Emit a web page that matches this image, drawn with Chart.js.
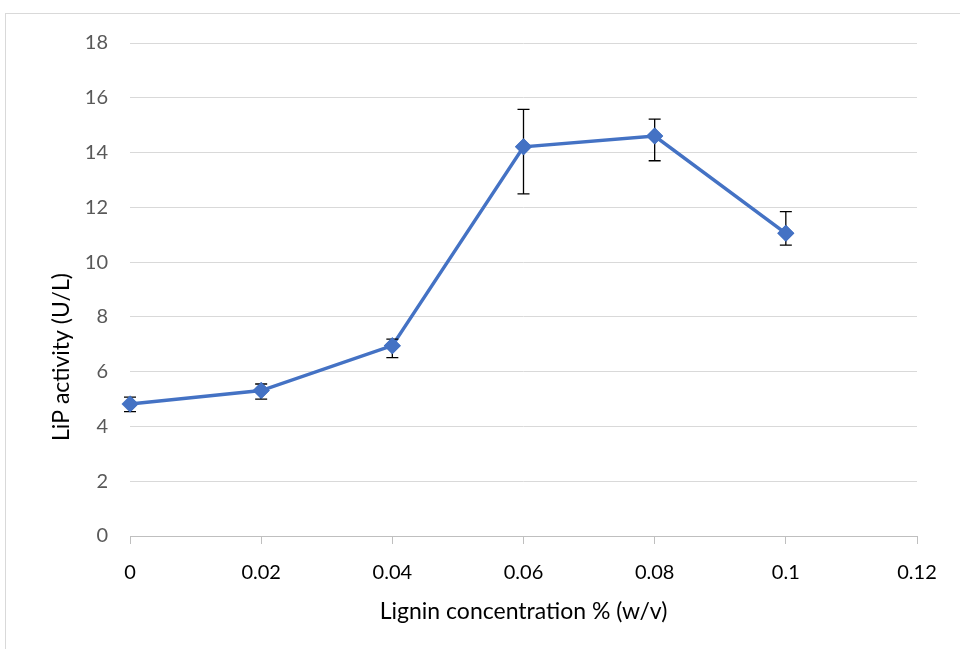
<!DOCTYPE html>
<html>
<head>
<meta charset="utf-8">
<script src="https://cdn.jsdelivr.net/npm/chart.js@4/dist/chart.umd.min.js"></script>
<style>
  html, body { margin: 0; padding: 0; background: #fff; overflow: hidden; }
  #frame { position: absolute; left: 5px; top: 13px; width: 1000px; height: 700px;
    border: 1px solid #d9d9d9; box-sizing: border-box; }
  #wrap { position: absolute; left: 0; top: 0; width: 960px; height: 649px; }
</style>
</head>
<body>
<div id="frame"></div>
<div id="wrap"><canvas id="chart"></canvas></div>
<script>
// LiP activity vs lignin concentration, with asymmetric error bars
const lignin = [0, 0.02, 0.04, 0.06, 0.08, 0.1];
const activity = [4.82, 5.31, 6.95, 14.21, 14.6, 11.05];
const errPlus = [0.25, 0.24, 0.24, 1.37, 0.62, 0.79];
const errMinus = [0.28, 0.31, 0.44, 1.72, 0.9, 0.43];
const yTitle = "LiP activity (U/L)";
const xTitle = "Lignin concentration % (w/v)";

const BLUE = "#4472C4", GRID = "#d9d9d9", TICK = "#595959";
const FONT = "Lato, 'Open Sans', sans-serif";

const errorBars = {
  id: "errorBars",
  afterDatasetsDraw(chart) {
    const { ctx, scales: { x, y } } = chart;
    ctx.save();
    ctx.strokeStyle = "#000";
    ctx.lineWidth = 1.3;
    lignin.forEach((v, i) => {
      const px = x.getPixelForValue(v);
      const top = y.getPixelForValue(activity[i] + errPlus[i]);
      const bot = y.getPixelForValue(activity[i] - errMinus[i]);
      ctx.beginPath();
      ctx.moveTo(px, top); ctx.lineTo(px, bot);
      ctx.moveTo(px - 6, top); ctx.lineTo(px + 6, top);
      ctx.moveTo(px - 6, bot); ctx.lineTo(px + 6, bot);
      ctx.stroke();
    });
    ctx.restore();
  },
};

// markers over the error bars
const markersOnTop = {
  id: "markersOnTop",
  afterDraw(chart) {
    chart.getDatasetMeta(0).data.forEach((p) => p.draw(chart.ctx, chart.chartArea));
  },
};

// y title centred on plot + x-axis block, like Excel does
const yTitlePlugin = {
  id: "yTitlePlugin",
  afterDraw(chart) {
    const { ctx, chartArea } = chart;
    const cy = (chartArea.top + chart.height) / 2 + 11;
    ctx.save();
    ctx.translate(62, cy);
    ctx.rotate(-Math.PI / 2);
    ctx.font = `23px ${FONT}`;
    ctx.fillStyle = "#000";
    ctx.textAlign = "center";
    ctx.textBaseline = "middle";
    ctx.fillText(yTitle, 0, 0);
    ctx.restore();
  },
};

new Chart(document.getElementById("chart"), {
  type: "scatter",
  data: {
    datasets: [{
      data: lignin.map((v, i) => ({ x: v, y: activity[i] })),
      showLine: true,
      borderColor: BLUE,
      borderWidth: 3.5,
      backgroundColor: BLUE,
      pointStyle: "rectRot",
      pointRadius: 8.5,
      pointBorderWidth: 0,
      pointBackgroundColor: BLUE,
      tension: 0,
    }],
  },
  options: {
    responsive: true, maintainAspectRatio: false, animation: false,
    layout: { padding: { left: 0, right: 43, top: 43, bottom: 0 } },
    plugins: { legend: { display: false }, tooltip: { enabled: false } },
    scales: {
      x: {
        type: "linear", min: 0, max: 0.12,
        afterFit: (s) => { s.height = 113; },
        ticks: { stepSize: 0.02, color: "#000", padding: 17,
          font: { family: FONT, size: 20 },
          callback: (v) => String(+v.toFixed(2)) },
        grid: { drawOnChartArea: false, drawTicks: true, tickLength: 8,
          tickColor: "#bfbfbf" },
        border: { color: "#bfbfbf", width: 1 },
        title: { display: true, text: xTitle, color: "#000",
          font: { family: FONT, size: 23 }, padding: { top: 0, bottom: 24 } },
      },
      y: {
        min: 0, max: 18,
        afterFit: (s) => { s.width = 130; },
        ticks: { stepSize: 2, color: TICK, padding: 22,
          font: { family: FONT, size: 20 } },
        grid: { color: GRID, drawTicks: false, lineWidth: 1 },
        border: { display: false },
      },
    },
  },
  plugins: [errorBars, markersOnTop, yTitlePlugin],
});
</script>
</body>
</html>
